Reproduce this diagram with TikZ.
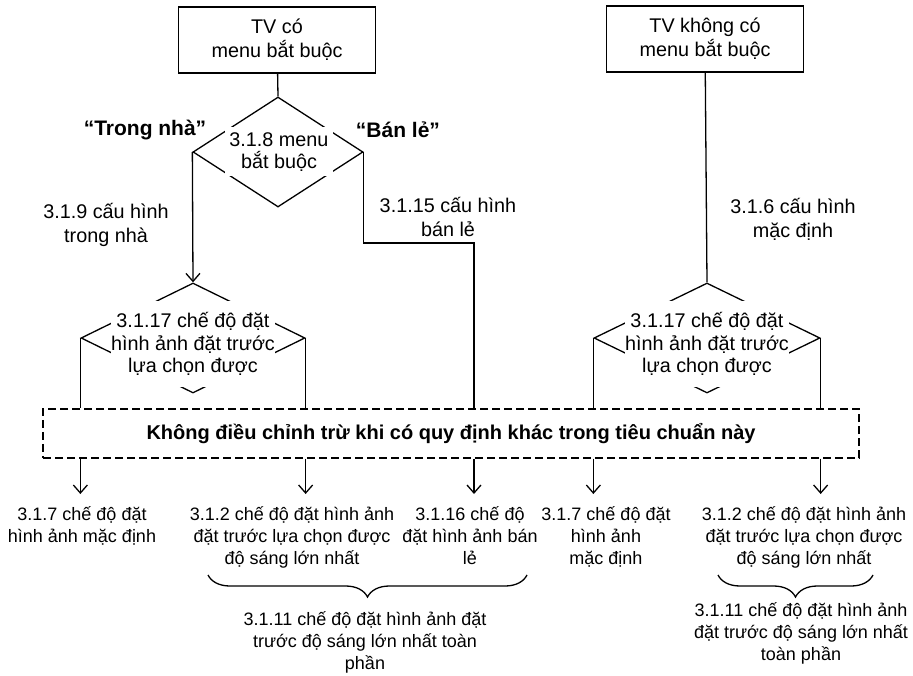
\documentclass[tikz,border=0pt]{standalone}
\usepackage{fontspec}
\setmainfont{Liberation Sans}
\usetikzlibrary{shapes.geometric,arrows.meta,positioning,decorations.pathreplacing}

\begin{document}
\begin{tikzpicture}[x=1pt, y=-1pt, line width=1.3pt,
    font=\fontsize{18}{22}\selectfont,
    tvbox/.style={rectangle, draw, minimum width=197pt, minimum height=66pt, align=center, font=\fontsize{19.8}{24}\selectfont},
    choice/.style={diamond, draw, inner sep=0pt},
    cover/.style={fill=white, inner sep=0pt, align=center, font=\fontsize{19.8}{22.5}\selectfont},
    lbl/.style={align=center, inner sep=2pt},
    biglbl/.style={lbl, font=\fontsize{19.8}{24}\selectfont},
    tag/.style={font=\fontsize{21}{22}\selectfont\bfseries},
    arr/.style={-{Straight Barb[length=8pt,width=14pt]}},
    bracedown/.style={decorate, decoration={brace, amplitude=22pt}}]
    \useasboundingbox (0,0) rectangle (913,676);

    % top row
    \node[tvbox] (tvmenu) at (277,40) {TV có\\menu bắt buộc};
    \node[tvbox] (tvnomenu) at (705,39) {TV không có\\menu bắt buộc};

    % decision + preset diamonds
    \node[choice, minimum width=170pt, minimum height=110pt] (menu) at (278,152) {};
    \node[cover, minimum width=108pt, minimum height=49pt] (menutxt) at (279,152) {3.1.8 menu\\bắt buộc};
    \node[choice, minimum width=224pt, minimum height=110pt] (selL) at (193,338) {};
    \node[cover, minimum width=160pt, minimum height=86pt] (selLtxt) at (193,344) {3.1.17 chế độ đặt\\hình ảnh đặt trước\\lựa chọn được};
    \node[choice, minimum width=226pt, minimum height=110pt] (selR) at (707,338) {};
    \node[cover, minimum width=160pt, minimum height=86pt] (selRtxt) at (707,344) {3.1.17 chế độ đặt\\hình ảnh đặt trước\\lựa chọn được};

    \node[tag] (home) at (145,130) {“Trong nhà”};
    \node[tag] (retail) at (398,130) {“Bán lẻ”};
    \node[biglbl] (cfghome) at (106,225) {3.1.9 cấu hình\\trong nhà};
    \node[biglbl] (cfgretail) at (448,217) {3.1.15 cấu hình\\bán lẻ};
    \node[biglbl] (cfgdef) at (793,219) {3.1.6 cấu hình\\mặc định};

    % dashed note
    \node[draw, dashed, dash pattern=on 8pt off 4pt, minimum width=816pt, minimum height=49pt, inner sep=0pt,
          font=\fontsize{20}{22}\selectfont\bfseries] (note) at (451,433.5)
          {Không điều chỉnh trừ khi có quy định khác trong tiêu chuẩn này};

    % results
    \node[lbl, anchor=north] (defL) at (82,504) {3.1.7 chế độ đặt\\hình ảnh mặc định};
    \node[lbl, anchor=north] (maxL) at (292,504) {3.1.2 chế độ đặt hình ảnh\\đặt trước lựa chọn được\\độ sáng lớn nhất};
    \node[lbl, anchor=north] (shop) at (470,504) {3.1.16 chế độ\\đặt hình ảnh bán\\lẻ};
    \node[lbl, anchor=north] (defR) at (606,504) {3.1.7 chế độ đặt\\hình ảnh\\mặc định};
    \node[lbl, anchor=north] (maxR) at (804,504) {3.1.2 chế độ đặt hình ảnh\\đặt trước lựa chọn được\\độ sáng lớn nhất};
    \node[lbl, anchor=north] (fullL) at (365,609) {3.1.11 chế độ đặt hình ảnh đặt\\trước độ sáng lớn nhất toàn\\phần};
    \node[lbl, anchor=north] (fullR) at (801,600) {3.1.11 chế độ đặt hình ảnh\\đặt trước độ sáng lớn nhất\\toàn phần};

    % connectors
    \coordinate (bend) at (474,243);
    \draw (tvmenu) -- (menu.north);
    \draw[arr] (menu.west) -- (selL.north);
    \draw (menu.east) |- (bend) -- (bend |- note.north);
    \draw (tvnomenu) -- (selR.north);
    \draw (selL.west) -- (selL.west |- note.north);
    \draw (selL.east) -- (selL.east |- note.north);
    \draw (selR.west) -- (selR.west |- note.north);
    \draw (selR.east) -- (selR.east |- note.north);

    \draw[arr, shorten >=10pt] (selL.west |- note.south) -- (selL.west |- defL.north);
    \draw[arr, shorten >=10pt] (selL.east |- note.south) -- (selL.east |- maxL.north);
    \draw[arr, shorten >=10pt] (bend |- note.south) -- (bend |- shop.north);
    \draw[arr, shorten >=10pt] (selR.west |- note.south) -- (selR.west |- defR.north);
    \draw[arr, shorten >=10pt] (selR.east |- note.south) -- (selR.east |- maxR.north);

    % braces
    \draw[bracedown] (527,575) -- (208,575);
    \draw[bracedown] (873,575) -- (718,575);
\end{tikzpicture}
\end{document}
